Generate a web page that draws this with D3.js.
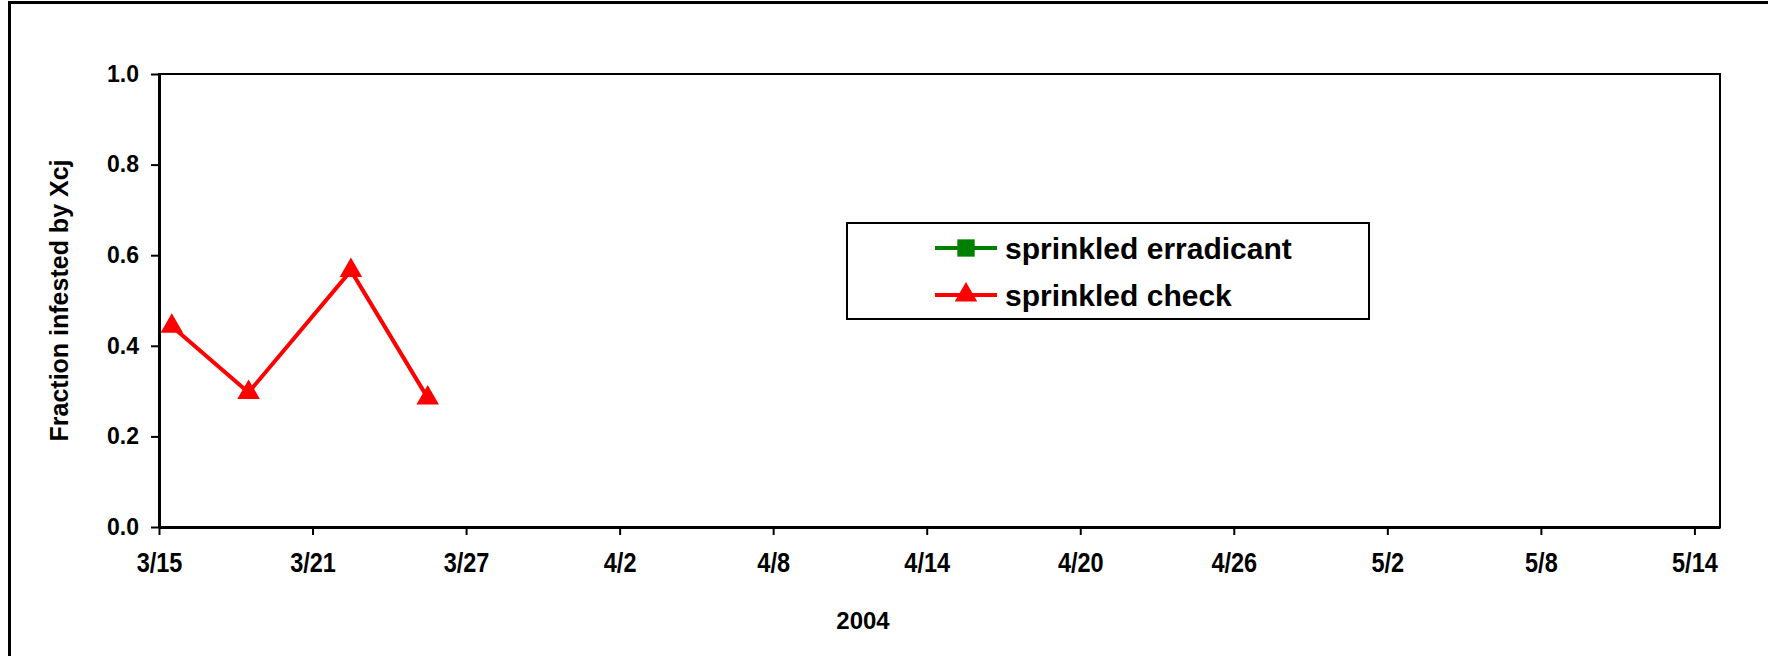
<body style="margin:0">
  <script src="https://cdn.jsdelivr.net/npm/d3@7"></script>

  <style>
    * {
      font-family: "Liberation Sans", Arial, sans-serif;
      font-weight: bold;
    }
    body { margin: 0; background: #fff; }
  </style>
  <script>
    // data
    var checkDates = ["2004-03-15", "2004-03-18", "2004-03-22", "2004-03-25"];
    var checkValues = [0.443, 0.297, 0.566, 0.285];
    var erradicantDates = [];
    var erradicantValues = [];
    var xTickDates = ["2004-03-15", "2004-03-21", "2004-03-27", "2004-04-02", "2004-04-08",
                      "2004-04-14", "2004-04-20", "2004-04-26", "2004-05-02", "2004-05-08", "2004-05-14"];
    var yTicks = [0, 0.2, 0.4, 0.6, 0.8, 1.0];
    var seriesNames = ["sprinkled erradicant", "sprinkled check"];

    var W = 1768, H = 656;
    var margin = {top: 74, right: 48, bottom: 129, left: 159};
    var width = W - margin.left - margin.right,
        height = H - margin.top - margin.bottom;

    var parse = d3.timeParse("%Y-%m-%d");
    var halfDay = 12 * 3600 * 1000; // points sit between tick marks

    var svg = d3.select("body").append("svg")
      .attr("width", W)
      .attr("height", H);

    svg.append("rect").attr("width", W).attr("height", H).attr("fill", "#fff");
    // outer chart border
    svg.append("rect")
      .attr("x", 9.5).attr("y", 2.5)
      .attr("width", W + 10).attr("height", H + 10)
      .attr("fill", "none").attr("stroke", "#000").attr("stroke-width", 3);

    var g = svg.append("g")
      .attr("transform", "translate(" + margin.left + "," + margin.top + ")");

    var x = d3.scaleTime()
      .domain([parse("2004-03-15"), parse("2004-05-15")])
      .range([0, width]);
    var y = d3.scaleLinear()
      .domain([0, 1])
      .range([height, 0]);

    g.append("rect")
      .attr("width", width).attr("height", height)
      .attr("fill", "none").attr("stroke", "#000").attr("stroke-width", 2);

    var xAxis = g.append("g")
      .attr("transform", "translate(0," + height + ")")
      .call(d3.axisBottom(x)
        .tickValues(xTickDates.map(parse))
        .tickFormat(d3.timeFormat("%-m/%-d"))
        .tickSize(8).tickSizeOuter(0).tickPadding(18));
    xAxis.select(".domain").attr("stroke-width", 3);
    xAxis.selectAll(".tick line").attr("stroke-width", 2);
    xAxis.selectAll("text")
      .attr("font-size", 27)
      .attr("fill", "#000")
      .attr("transform", "scale(0.87,1)");

    var yAxis = g.append("g")
      .call(d3.axisLeft(y)
        .tickValues(yTicks)
        .tickFormat(d3.format(".1f"))
        .tickSize(8).tickSizeOuter(0).tickPadding(12));
    yAxis.select(".domain").attr("stroke-width", 3);
    yAxis.selectAll(".tick line").attr("stroke-width", 2);
    yAxis.selectAll("text").attr("font-size", 23).attr("fill", "#000");

    // axis titles
    svg.append("text")
      .attr("transform", "translate(68," + (margin.top + height / 2) + ") rotate(-90)")
      .attr("text-anchor", "middle")
      .attr("font-size", 25)
      .text("Fraction infested by Xcj");
    svg.append("text")
      .attr("x", 863).attr("y", 629)
      .attr("text-anchor", "middle")
      .attr("font-size", 24)
      .text("2004");

    var checkData = checkDates.map((d, i) => ({date: new Date(+parse(d) + halfDay), value: checkValues[i]}));
    var erradData = erradicantDates.map((d, i) => ({date: new Date(+parse(d) + halfDay), value: erradicantValues[i]}));

    var line = d3.line().x(d => x(d.date)).y(d => y(d.value));
    var tri = d3.symbol().type(d3.symbolTriangle).size(220);
    var sq = d3.symbol().type(d3.symbolSquare).size(300);

    g.append("path").datum(erradData)
      .attr("d", line).attr("fill", "none")
      .attr("stroke", "#008000").attr("stroke-width", 4);
    g.selectAll(".sq").data(erradData).enter().append("path")
      .attr("class", "sq")
      .attr("transform", d => "translate(" + x(d.date) + "," + y(d.value) + ")")
      .attr("d", sq).attr("fill", "#008000");

    g.append("path").datum(checkData)
      .attr("d", line).attr("fill", "none")
      .attr("stroke", "#ff0000").attr("stroke-width", 4)
      .attr("stroke-linejoin", "round");
    g.selectAll(".tri").data(checkData).enter().append("path")
      .attr("class", "tri")
      .attr("transform", d => "translate(" + x(d.date) + "," + y(d.value) + ")")
      .attr("d", tri).attr("fill", "#ff0000");

    // legend
    var legend = svg.append("g").attr("transform", "translate(847,223)");
    legend.append("rect")
      .attr("width", 522).attr("height", 96)
      .attr("fill", "#fff").attr("stroke", "#000").attr("stroke-width", 2);
    var colors = ["#008000", "#ff0000"];
    var shapes = [sq, tri];
    seriesNames.forEach((name, i) => {
      var row = legend.append("g").attr("transform", "translate(0," + (25 + i * 47) + ")");
      row.append("line")
        .attr("x1", 88).attr("x2", 150)
        .attr("stroke", colors[i]).attr("stroke-width", 4);
      row.append("path")
        .attr("transform", "translate(119,0)")
        .attr("d", shapes[i]).attr("fill", colors[i]);
      row.append("text")
        .attr("x", 158).attr("dy", "0.36em")
        .attr("font-size", 30)
        .text(name);
    });
  </script>
</body>
